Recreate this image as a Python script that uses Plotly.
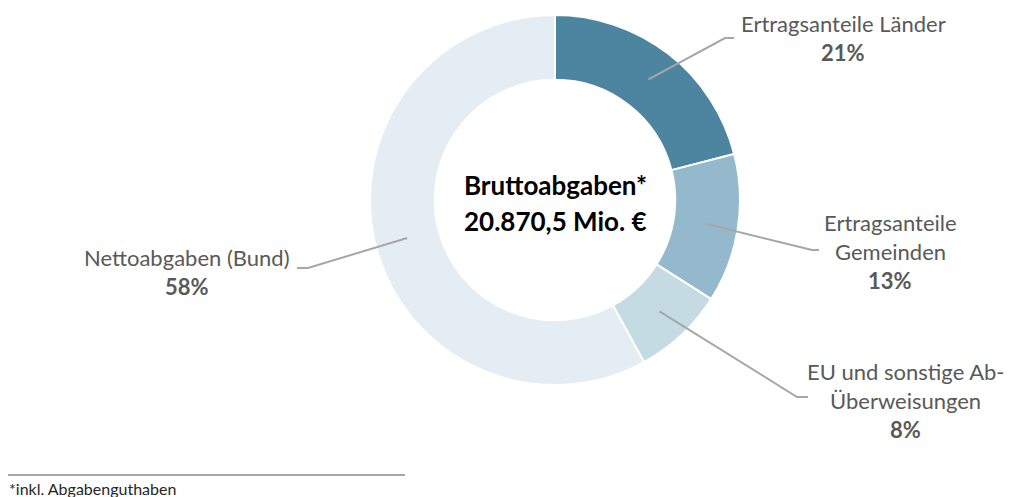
import math
import plotly.graph_objects as go

# ---- data ----
categories = ["Ertragsanteile Länder", "Ertragsanteile Gemeinden",
              "EU und sonstige Ab-Überweisungen", "Nettoabgaben (Bund)"]
values = [21, 13, 8, 58]
label_lines = [["Ertragsanteile Länder"],
               ["Ertragsanteile", "Gemeinden"],
               ["EU und sonstige Ab-", "Überweisungen"],
               ["Nettoabgaben (Bund)"]]
colors = ["#4d85a1", "#94b9cc", "#c5dbe4", "#e4edf3"]
center_title = "Bruttoabgaben*"
center_value = "20.870,5 Mio. €"
footnote = "*inkl. Abgabenguthaben"

# ---- layout (pixels) ----
W, H = 1009, 497
cx, cy, R = 555, 200, 185
hole = 0.65
FONT = "Lato"
TXT = "#595959"
LINE = "#a6a6a6"

# label block: (center x, first line y), elbow point, elbow end
label_pos = [(843, 23), (890, 222), (905, 371), (187, 257)]
elbows = [((725, 38), (734, 38)),
          ((812, 250), (819, 250)),
          ((797, 397), (808, 397)),
          ((308, 268), (297, 268))]
line_gap = 29

fig = go.Figure()
fig.add_trace(go.Pie(
    labels=categories, values=values, hole=hole, sort=False,
    direction="clockwise", rotation=0,
    marker=dict(colors=colors, line=dict(color="white", width=2)),
    textinfo="none", hoverinfo="label+percent", showlegend=False,
    domain=dict(x=[(cx - R) / W, (cx + R) / W],
                y=[1 - (cy + R) / H, 1 - (cy - R) / H]),
))

# invisible helper scatter so pixel axes exist
fig.add_trace(go.Scatter(x=[0, W], y=[0, H], mode="markers",
                         marker=dict(opacity=0), hoverinfo="skip",
                         showlegend=False))

shapes = []
annotations = []
total = sum(values)
cum = 0
r_mid = R * (1 + hole) / 2
for i, v in enumerate(values):
    mid = (cum + v / 2) / total * 2 * math.pi
    cum += v
    sx = cx + r_mid * math.sin(mid)
    sy = cy - r_mid * math.cos(mid)
    (ex, ey), (fx, fy) = elbows[i]
    shapes.append(dict(type="path", xref="x", yref="y",
                       path=f"M {sx:.1f} {sy:.1f} L {ex} {ey} L {fx} {fy}",
                       line=dict(color=LINE, width=2)))
    lx, ly = label_pos[i]
    lines = label_lines[i] + [f"<b>{v}%</b>"]
    for k, t in enumerate(lines):
        annotations.append(dict(x=lx, y=ly + k * line_gap, xref="x", yref="y",
                                text=t, showarrow=False, xanchor="center",
                                yanchor="middle",
                                font=dict(family=FONT, size=22, color=TXT)))

annotations.append(dict(x=cx, y=185, xref="x", yref="y",
                        text=f"<b>{center_title}</b>", showarrow=False,
                        font=dict(family=FONT, size=26, color="black")))
annotations.append(dict(x=cx, y=221, xref="x", yref="y",
                        text=f"<b>{center_value}</b>", showarrow=False,
                        font=dict(family=FONT, size=26, color="black")))
annotations.append(dict(x=7, y=488, xref="x", yref="y", xanchor="left",
                        text=footnote, showarrow=False,
                        font=dict(family=FONT, size=16, color="#262626")))
shapes.append(dict(type="line", xref="x", yref="y", x0=8, x1=405, y0=475,
                   y1=475, line=dict(color=LINE, width=2)))

fig.update_layout(
    width=W, height=H, margin=dict(l=0, r=0, t=0, b=0),
    paper_bgcolor="white", plot_bgcolor="rgba(0,0,0,0)",
    xaxis=dict(range=[0, W], visible=False, fixedrange=True),
    yaxis=dict(range=[H, 0], visible=False, fixedrange=True),
    shapes=shapes, annotations=annotations,
    font=dict(family=FONT),
)
fig.write_html("out.html", config={"displayModeBar": False},
               post_script="document.body.style.margin='0';"
                           "document.body.style.overflow='hidden';")
